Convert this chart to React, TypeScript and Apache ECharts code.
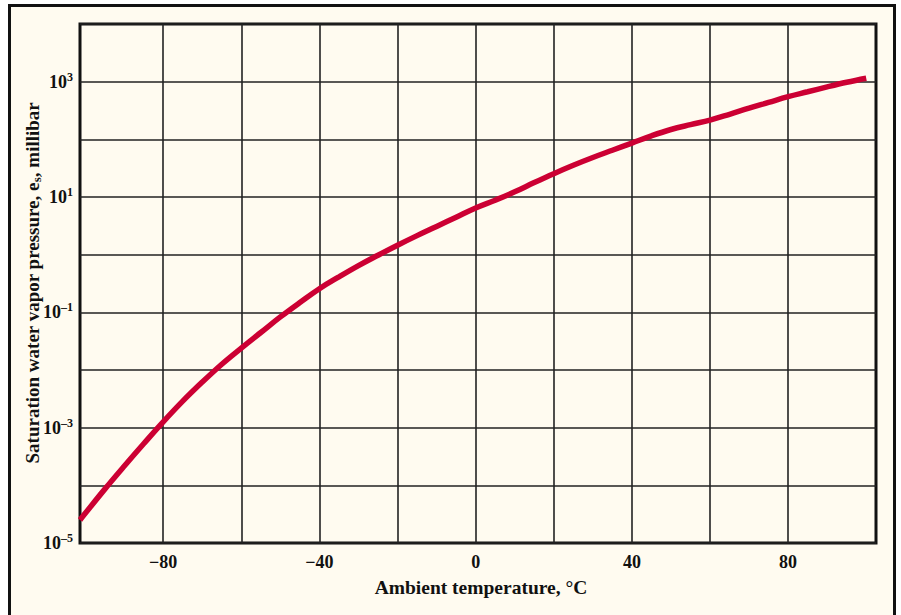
import React, { useEffect, useRef } from 'react';
import * as echarts from 'echarts';

// Temperature (°C) and saturation water vapour pressure (millibar)
const temperatures = [
  -101.3, -100, -95, -90, -85, -80, -75, -70, -65, -60, -55, -50, -45, -40, -35, -30, -25, -20,
  -15, -10, -5, 0, 5, 10, 15, 20, 25, 30, 35, 40, 45, 50, 55, 60, 65, 70, 75, 80, 85, 90, 95, 100,
];
const pressures = [
  2.51e-5, 3.24e-5, 8.51e-5, 2.14e-4, 5.25e-4, 1.26e-3, 2.88e-3, 6.17e-3, 1.26e-2, 2.4e-2, 4.47e-2,
  8.32e-2, 0.148, 0.257, 0.412, 0.646, 0.977, 1.46, 2.14, 3.09, 4.47, 6.46, 8.81, 12.3, 17.8, 25.4,
  35.5, 48.4, 64.6, 86.1, 115, 148, 180, 216, 272, 347, 437, 550, 668, 813, 977, 1148,
];
const xGridValues = [-80, -60, -40, -20, 0, 20, 40, 60, 80];
const xLabelValues = [-80, -40, 0, 40, 80];
const xAxisTitle = 'Ambient temperature, °C';
const yTitleBefore = 'Saturation water vapor pressure, e';
const yTitleSub = 's';
const yTitleAfter = ', millibar';

const FONT = '"Liberation Serif", "DejaVu Serif", serif';

export default function App() {
  const ref = useRef<HTMLDivElement>(null);
  useEffect(() => {
    if (!ref.current) return;
    const chart = echarts.init(ref.current, null, { renderer: 'svg' });
    const data = temperatures.map((t, i) => [t, pressures[i]]);
    chart.setOption({
      animation: false,
      grid: {
        left: 80,
        top: 24,
        width: 796,
        height: 519,
        show: true,
        borderColor: '#111',
        borderWidth: 3,
        backgroundColor: 'transparent',
      },
      xAxis: {
        type: 'value',
        min: -101.3,
        max: 102.5,
        axisLine: { show: false },
        axisTick: { show: false, customValues: xGridValues },
        splitLine: { show: true, lineStyle: { color: '#222', width: 1.6 } },
        axisLabel: {
          customValues: xLabelValues,
          margin: 10,
          fontSize: 18,
          fontWeight: 'bold',
          fontFamily: FONT,
          color: '#111',
          formatter: (v: number) => (v < 0 ? '\u2212' + Math.abs(v) : String(v)),
        },
      },
      yAxis: {
        type: 'log',
        logBase: 10,
        min: 1e-5,
        max: 1e4,
        interval: 1,
        axisLine: { show: false },
        axisTick: { show: false },
        splitLine: { show: true, lineStyle: { color: '#222', width: 1.6 } },
        axisLabel: {
          margin: 7,
          color: '#111',
          formatter: (v: number) => {
            const e = Math.round(Math.log10(v));
            if (e % 2 === 0) return '';
            const es = e < 0 ? '\u2013' + Math.abs(e) : String(e);
            return '{b|10}{s|' + es + '}';
          },
          rich: {
            b: { fontSize: 18, fontWeight: 'bold', fontFamily: FONT, color: '#111', lineHeight: 22 },
            s: { fontSize: 12, fontWeight: 'bold', fontFamily: FONT, color: '#111', verticalAlign: 'top', lineHeight: 22 },
          },
        },
      },
      graphic: [
        {
          type: 'text',
          x: 481,
          y: 587,
          style: {
            text: xAxisTitle,
            fontSize: 19.5,
            fontWeight: 'bold',
            fontFamily: FONT,
            fill: '#111',
            align: 'center',
            verticalAlign: 'middle',
          },
        },
        {
          type: 'text',
          x: 32,
          y: 283,
          rotation: Math.PI / 2,
          style: {
            text: '{t|' + yTitleBefore + '}{u|' + yTitleSub + '}{t|' + yTitleAfter + '}',
            align: 'center',
            verticalAlign: 'middle',
            rich: {
              t: { fontSize: 19, fontWeight: 'bold', fontFamily: FONT, fill: '#111', lineHeight: 22 },
              u: { fontSize: 13, fontWeight: 'bold', fontFamily: FONT, fill: '#111', verticalAlign: 'bottom', lineHeight: 22 },
            },
          },
        },
      ],
      series: [
        {
          type: 'line',
          data,
          clip: false,
          showSymbol: false,
          smooth: 0.4,
          lineStyle: { color: '#cc0033', width: 5.5, cap: 'butt' },
        },
      ],
    });
    return () => chart.dispose();
  }, []);
  return (
    <div style={{ position: 'fixed', left: 0, top: 0, width: 901, height: 615, overflow: 'hidden', background: '#fff' }}>
      <div
        style={{
          position: 'absolute',
          left: 8,
          top: 4,
          width: 882,
          height: 700,
          border: '3px solid #111',
          background: '#fffbf0',
        }}
      />
      <div ref={ref} style={{ position: 'absolute', left: 0, top: 0, width: 901, height: 615 }} />
    </div>
  );
}
